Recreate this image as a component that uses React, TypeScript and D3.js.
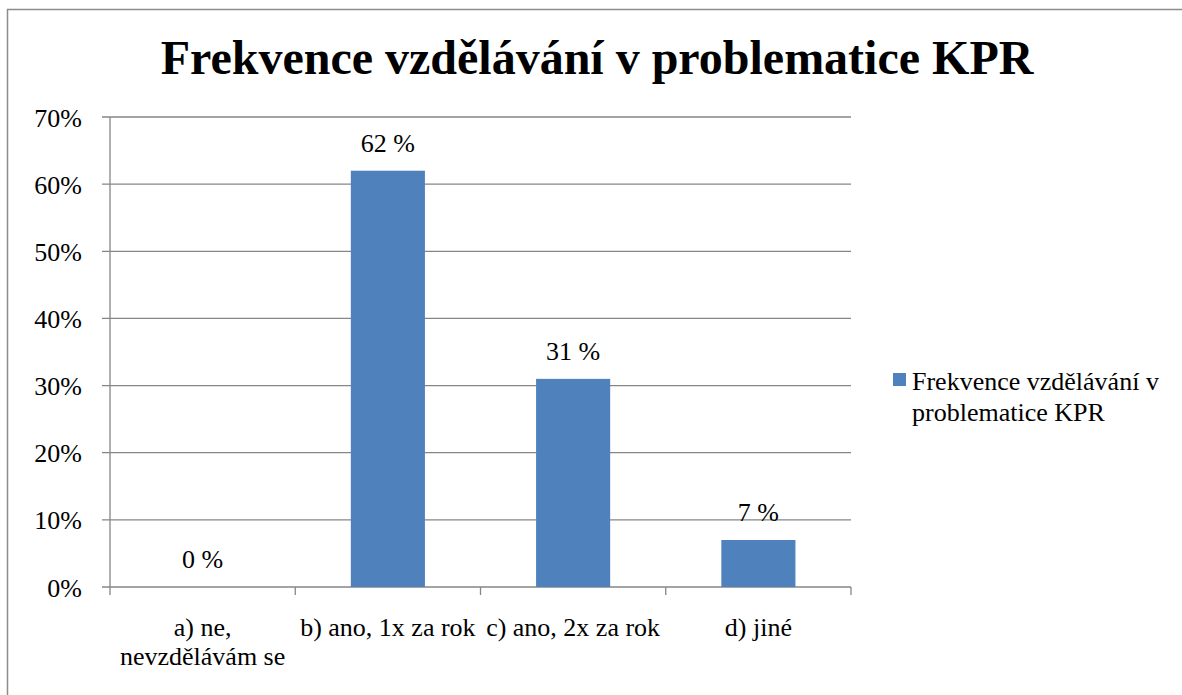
import React from "react";
import * as d3 from "d3";

const categories: string[][] = [
  ["a) ne,", "nevzdělávám se"],
  ["b) ano, 1x za rok"],
  ["c) ano, 2x za rok"],
  ["d) jiné"],
];
const values: number[] = [0, 62, 31, 7];
const valueLabels: string[] = ["0 %", "62 %", "31 %", "7 %"];
const yTicks: number[] = [0, 10, 20, 30, 40, 50, 60, 70];
const title = "Frekvence vzdělávání v problematice KPR";
const legendLines: string[] = ["Frekvence vzdělávání v", "problematice KPR"];

const W = 1182;
const H = 695;
const plot = { left: 110, right: 851, top: 117, bottom: 587 };
const font = "Liberation Serif, serif";
const barColor = "#4F81BD";
const gridColor = "#868686";
const fs = 26;

export default function App() {
  const x = d3
    .scaleBand<number>()
    .domain(values.map((_, i) => i))
    .range([plot.left, plot.right])
    .paddingInner(0.6)
    .paddingOuter(0.3);
  const y = d3.scaleLinear().domain([0, 70]).range([plot.bottom, plot.top]);
  const step = (plot.right - plot.left) / values.length;
  const ts: React.CSSProperties = { fontFamily: font };

  return (
    <svg
      width={W}
      height={H}
      style={{ position: "absolute", left: 0, top: 0, background: "#fff", fontFamily: font }}
    >
      <rect x={0} y={0} width={W} height={H} fill="#fff" />
      <rect x={7.5} y={9.5} width={W} height={H} fill="none" stroke="#8c8c8c" strokeWidth={1.5} />
      <text x={597} y={73.5} textAnchor="middle" fontSize={48} fontWeight="bold" fill="#000" style={ts}>
        {title}
      </text>
      {yTicks.map((t) => (
        <g key={t}>
          <line x1={plot.left - 8} x2={plot.right} y1={y(t)} y2={y(t)} stroke={gridColor} strokeWidth={1.3} />
          <text x={82} y={y(t) + 9.5} textAnchor="end" fontSize={fs} fill="#000" style={ts}>
            {t}%
          </text>
        </g>
      ))}
      <line x1={plot.left} x2={plot.left} y1={plot.top} y2={plot.bottom} stroke={gridColor} strokeWidth={1.3} />
      {d3.range(values.length + 1).map((i) => (
        <line
          key={i}
          x1={plot.left + i * step}
          x2={plot.left + i * step}
          y1={plot.bottom}
          y2={plot.bottom + 8}
          stroke={gridColor}
          strokeWidth={1.3}
        />
      ))}
      {values.map((v, i) => (
        <g key={i}>
          <rect
            x={x(i)}
            y={y(v)}
            width={x.bandwidth()}
            height={plot.bottom - y(v)}
            fill={barColor}
          />
          <text
            x={(x(i) as number) + x.bandwidth() / 2}
            y={y(v) - 19}
            textAnchor="middle"
            fontSize={fs}
            fill="#000"
            style={ts}
          >
            {valueLabels[i]}
          </text>
        </g>
      ))}
      {categories.map((lines, i) => (
        <text
          key={i}
          x={(x(i) as number) + x.bandwidth() / 2}
          y={636}
          textAnchor="middle"
          fontSize={fs}
          fill="#000"
          style={ts}
        >
          {lines.map((l, j) => (
            <tspan key={j} x={(x(i) as number) + x.bandwidth() / 2} dy={j === 0 ? 0 : 29}>
              {l}
            </tspan>
          ))}
        </text>
      ))}
      <rect x={893} y={373} width={13} height={13} fill={barColor} />
      {legendLines.map((l, j) => (
        <text key={j} x={912} y={390 + j * 31} fontSize={fs} fill="#000" style={ts}>
          {l}
        </text>
      ))}
    </svg>
  );
}
